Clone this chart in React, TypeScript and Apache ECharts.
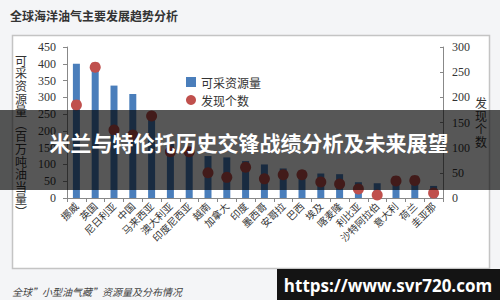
import React, { useEffect, useRef } from "react";
import * as echarts from "echarts";

const categories = ["挪威", "英国", "尼日利亚", "中国", "马来西亚", "澳大利亚", "印度尼西亚", "越南", "加拿大", "印度", "墨西哥", "安哥拉", "巴西", "埃及", "喀麦隆", "利比亚", "沙特阿拉伯", "意大利", "荷兰", "圭亚那"];
const resources = [400, 390, 335, 310, 242, 165, 150, 125, 121, 110, 100, 88, 82, 73, 71, 47, 44, 42, 40, 36];
const discoveries = [185, 260, 135, 125, 163, 92, 92, 50, 41, 61, 38, 46, 46, 32, 28, 18, 6, 34, 35, 10];
const leftTicks = { min: 0, max: 450, interval: 50 };
const rightTicks = { min: 0, max: 300, interval: 50 };

const pageTitle = "全球海洋油气主要发展趋势分析";
const caption = "全球\u201d小型油气藏\u201d资源量及分布情况";
const leftName = "可采资源量︵百万吨油当量︶";
const rightName = "发现个数";
const bannerText = "米兰与特伦托历史交锋战绩分析及未来展望";
const watermark = "https://www.svr720.com";

const CJK = '"Noto Sans CJK SC", sans-serif';
const SERIF = '"Liberation Serif", "Times New Roman", serif';

export default function App() {
  const ref = useRef<HTMLDivElement>(null);
  useEffect(() => {
    if (!ref.current) return;
    const chart = echarts.init(ref.current, null, { renderer: "svg" });
    chart.setOption({
      animation: false,
      backgroundColor: "#f4f5f7",
      grid: { left: 67, right: 57, top: 47, bottom: 102 },
      legend: {
        left: 181,
        top: 71,
        orient: "vertical",
        itemGap: 6,
        itemWidth: 10,
        itemHeight: 10,
        textStyle: { fontSize: 12, fontFamily: CJK, color: "#333" },
        data: [
          { name: "可采资源量", icon: "rect" },
          { name: "发现个数", icon: "circle" },
        ],
      },
      xAxis: {
        type: "category",
        data: categories,
        axisLine: { lineStyle: { color: "#888" } },
        axisTick: { show: true, length: 4, lineStyle: { color: "#888" } },
        axisLabel: { rotate: 45, fontSize: 10, fontFamily: CJK, color: "#333", margin: 6, interval: 0 },
      },
      yAxis: [
        {
          type: "value",
          ...leftTicks,
          splitLine: { show: false },
          axisLine: { show: true, lineStyle: { color: "#888" } },
          axisTick: { show: true, length: 4, lineStyle: { color: "#888" } },
          axisLabel: { fontSize: 12, fontFamily: SERIF, color: "#333", margin: 11 },
        },
        {
          type: "value",
          ...rightTicks,
          position: "right",
          splitLine: { show: false },
          axisLine: { show: true, lineStyle: { color: "#888" } },
          axisTick: { show: true, inside: true, length: 3, lineStyle: { color: "#888" } },
          axisLabel: { fontSize: 12, fontFamily: SERIF, color: "#333", margin: 9 },
        },
      ],
      series: [
        {
          name: "可采资源量",
          type: "bar",
          data: resources,
          barWidth: 7,
          itemStyle: { color: "#4a7ebb" },
          yAxisIndex: 0,
        },
        {
          name: "发现个数",
          type: "scatter",
          data: discoveries,
          yAxisIndex: 1,
          symbolSize: 11,
          itemStyle: { color: "#c0504d", opacity: 1 },
          z: 3,
        },
      ],
      graphic: [
        {
          type: "rect",
          z: -5,
          shape: { x: 12.5, y: 35.5, width: 477, height: 233 },
          style: { fill: "#ffffff", stroke: "#c4c4c4", lineWidth: 1.5 },
        },
        {
          type: "text",
          x: 10,
          y: 15,
          style: { text: pageTitle, font: `bold 12px ${CJK}`, fill: "#333", verticalAlign: "middle" },
        },
        {
          type: "text",
          x: 12,
          y: 291,
          style: { text: caption, font: `italic 10px ${CJK}`, fill: "#444", verticalAlign: "middle" },
        },
        {
          type: "text",
          x: 21,
          y: 54,
          style: {
            text: leftName.split("").join("\n"),
            font: `12px ${CJK}`,
            lineHeight: 12.6,
            fill: "#333",
            align: "center",
            verticalAlign: "top",
          },
        },
        {
          type: "text",
          x: 481,
          y: 96,
          style: {
            text: rightName.split("").join("\n"),
            font: `12px ${CJK}`,
            lineHeight: 13,
            fill: "#333",
            align: "center",
            verticalAlign: "top",
          },
        },
        {
          type: "rect",
          z: 100,
          shape: { x: 0, y: 110, width: 500, height: 80 },
          style: { fill: "rgba(0,0,0,0.66)" },
        },
        {
          type: "text",
          z: 101,
          x: 249,
          y: 142,
          style: {
            text: bannerText,
            font: `bold 21px ${CJK}`,
            fill: "#ffffff",
            align: "center",
            verticalAlign: "middle",
          },
        },
        {
          type: "rect",
          z: 100,
          shape: { x: 277, y: 269, width: 223, height: 31 },
          style: { fill: "#141414" },
        },
        {
          type: "text",
          z: 101,
          x: 388,
          y: 285,
          style: {
            text: watermark,
            font: `bold 17px "Open Sans", "Noto Sans", sans-serif`,
            fill: "#ffffff",
            align: "center",
            verticalAlign: "middle",
          },
        },
      ],
    });
    return () => chart.dispose();
  }, []);
  return <div ref={ref} style={{ position: "fixed", left: 0, top: 0, width: 500, height: 300 }} />;
}
